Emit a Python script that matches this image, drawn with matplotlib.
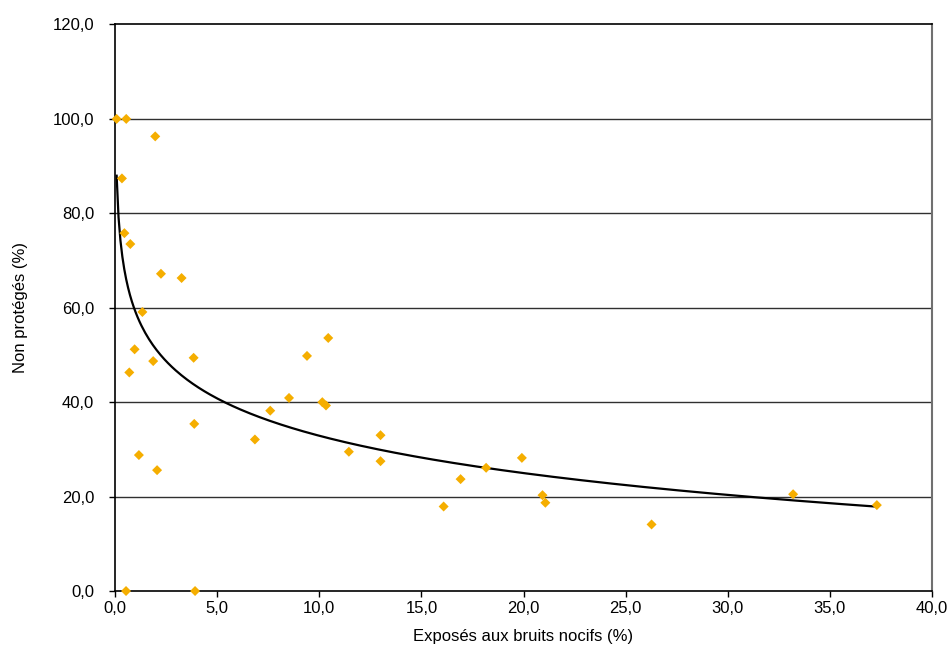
import numpy as np
import matplotlib
matplotlib.use('Agg')
import matplotlib.pyplot as plt
from matplotlib.ticker import FuncFormatter, MultipleLocator

# exposed to harmful noise (%) vs not protected (%)
exposes = [0.08, 0.55, 1.97, 0.34, 0.46, 0.75, 2.25, 3.26, 1.34, 0.96,
           1.87, 0.70, 3.85, 3.88, 1.17, 2.06, 6.85, 7.6, 8.52, 0.54,
           3.92, 9.4, 10.44, 10.15, 10.33, 11.45, 13.0, 13.0, 16.92, 18.17,
           19.92, 16.09, 20.93, 21.07, 26.27, 33.2, 37.3]
non_proteges = [100.0, 100.0, 96.3, 87.4, 75.8, 73.5, 67.2, 66.3, 59.1, 51.2,
                48.7, 46.3, 49.4, 35.4, 28.8, 25.6, 32.1, 38.2, 40.9, 0.0,
                0.0, 49.8, 53.6, 40.0, 39.3, 29.5, 33.0, 27.5, 23.7, 26.1,
                28.2, 17.9, 20.3, 18.7, 14.1, 20.5, 18.2]

x = np.array(exposes)
y = np.array(non_proteges)

# logarithmic trend line, as in the spreadsheet
b, a = np.polyfit(np.log(x), y, 1)
xt = np.linspace(x.min(), x.max(), 400)
yt = a + b * np.log(xt)

plt.rcParams['font.family'] = ['Liberation Sans', 'DejaVu Sans']

fig = plt.figure(figsize=(9.52, 6.71), dpi=100)
ax = fig.add_axes([0.1208, 0.1192, 0.8582, 0.8443])

for v in [20, 40, 60, 80, 100]:
    ax.axhline(v, color='#303030', lw=1, zorder=1)

ax.plot(xt, yt, color='black', lw=1.6, zorder=2)
ax.scatter(x, y, marker='D', s=26, color='#F5AE00', edgecolors='none', zorder=3, clip_on=False)

ax.set_xlim(0, 40)
ax.set_ylim(0, 120)
ax.xaxis.set_major_locator(MultipleLocator(5))
ax.yaxis.set_major_locator(MultipleLocator(20))
fmt = FuncFormatter(lambda v, p: ('%.1f' % v).replace('.', ','))
ax.xaxis.set_major_formatter(fmt)
ax.yaxis.set_major_formatter(fmt)
ax.tick_params(direction='out', length=4, width=1, labelsize=12, colors='black')
ax.tick_params(axis='y', pad=11)

for side in ['left', 'bottom', 'top']:
    ax.spines[side].set_color('black')
    ax.spines[side].set_linewidth(1.2)
ax.spines['right'].set_color('#707070')
ax.spines['right'].set_linewidth(1.5)

ax.set_xlabel('Exposés aux bruits nocifs (%)', fontsize=12, labelpad=9)
ax.set_ylabel('Non protégés (%)', fontsize=12, labelpad=18)

plt.savefig('out.png', dpi=100)
